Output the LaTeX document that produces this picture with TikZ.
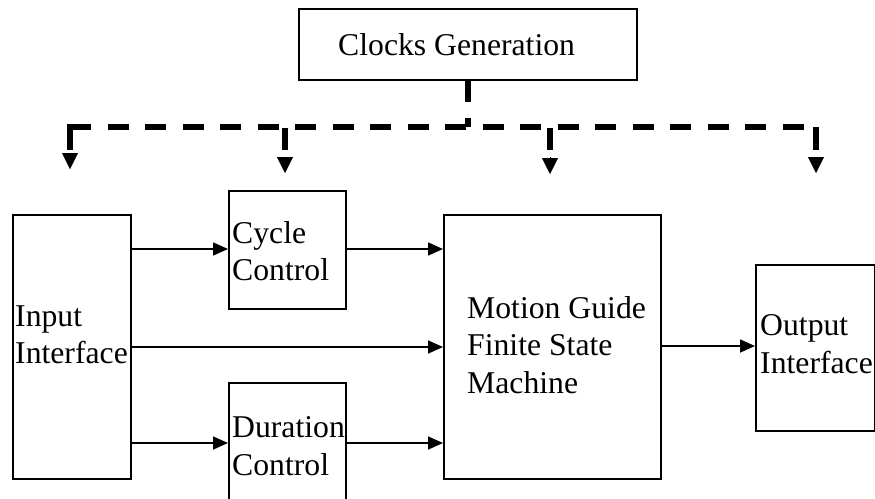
\documentclass[tikz,border=0pt]{standalone}
\usepackage{fontspec}
\setmainfont{Liberation Serif}
\usetikzlibrary{arrows.meta}
\begin{document}
\begin{tikzpicture}[x=1pt,y=-1pt,
 box/.style={draw,line width=1.6pt,inner sep=0pt,anchor=north west},
 lbl/.style={inner sep=0pt,anchor=base west,font=\fontsize{31.7}{37.3}\selectfont},
 flow/.style={line width=1.6pt,-{Triangle[width=13pt,length=15pt]}},
 clkdash/.style={line width=6pt,dash pattern=on 21pt off 16.5pt},
 clkstub/.style={line width=6pt},
 clkhead/.style={line width=0.4pt,shorten <=7pt,-{Triangle[width=16pt,length=16pt]}}]
\clip (0,0) rectangle (875,498);
\useasboundingbox (0,0) rectangle (875,498);
% boxes
\node[box,minimum width=338pt,minimum height=71pt] (clk) at (298,8) {};
\node[box,minimum width=118pt,minimum height=264pt] (in) at (12,214) {};
\node[box,minimum width=117pt,minimum height=118pt] (cyc) at (228,190) {};
\node[box,minimum width=117pt,minimum height=140pt] (dur) at (228,382) {};
\node[box,minimum width=217pt,minimum height=264pt] (mot) at (443,214) {};
\node[box,minimum width=119pt,minimum height=166pt] (out) at (755,264) {};
% texts
\node[lbl] (tclk) at (338,55) {Clocks Generation};
\node[lbl] (tin1) at (15,326) {Input};
\node[lbl] (tin2) at (15,363) {Interface};
\node[lbl] (tcy1) at (232,243) {Cycle};
\node[lbl] (tcy2) at (232,280) {Control};
\node[lbl] (tdu1) at (232,437) {Duration};
\node[lbl] (tdu2) at (232,475) {Control};
\node[lbl] (tmo1) at (467,318) {Motion Guide};
\node[lbl] (tmo2) at (467,355) {Finite State};
\node[lbl] (tmo3) at (467,393) {Machine};
\node[lbl] (tou1) at (760,335) {Output};
\node[lbl] (tou2) at (760,373) {Interface};
% clock tree
\coordinate (hy) at (0,127);
\coordinate (j) at (clk.south |- hy);
\coordinate (h1) at (70,127);
\coordinate (h2) at (285,128);
\coordinate (h3) at (550,128);
\coordinate (h4) at (816,127);
\coordinate (s1) at (70,150);
\coordinate (s2) at (285,150);
\coordinate (s3) at (550,150);
\coordinate (s4) at (816,150);
\coordinate (t1) at (70,169);
\coordinate (t2) at (285,173);
\coordinate (t3) at (550,174);
\coordinate (t4) at (816,173);
\draw[clkdash] (clk.south) -- (j);
\draw[clkdash] (h1) -- (h4);
\draw[clkstub] (h1) ++(0,-3) -- (s1);
\draw[clkstub] (h2) -- (s2);
\draw[clkstub] (h3) -- (s3);
\draw[clkstub] (h4) -- (s4);
\draw[clkhead,shorten <=3pt] (s1) -- (t1);
\draw[clkhead] (s2) -- (t2);
\draw[clkhead] (s3) -- (t3);
\draw[clkhead] (s4) -- (t4);
% data flow
\coordinate (yA) at (0,249);
\coordinate (yB) at (0,347);
\coordinate (yC) at (0,443);
\coordinate (yD) at (0,346);
\draw[flow] (in.east |- yA) -- (cyc.west |- yA);
\draw[flow] (cyc.east |- yA) -- (mot.west |- yA);
\draw[flow] (in.east |- yB) -- (mot.west |- yB);
\draw[flow] (in.east |- yC) -- (dur.west |- yC);
\draw[flow] (dur.east |- yC) -- (mot.west |- yC);
\draw[flow] (mot.east |- yD) -- (out.west |- yD);
\end{tikzpicture}
\end{document}
